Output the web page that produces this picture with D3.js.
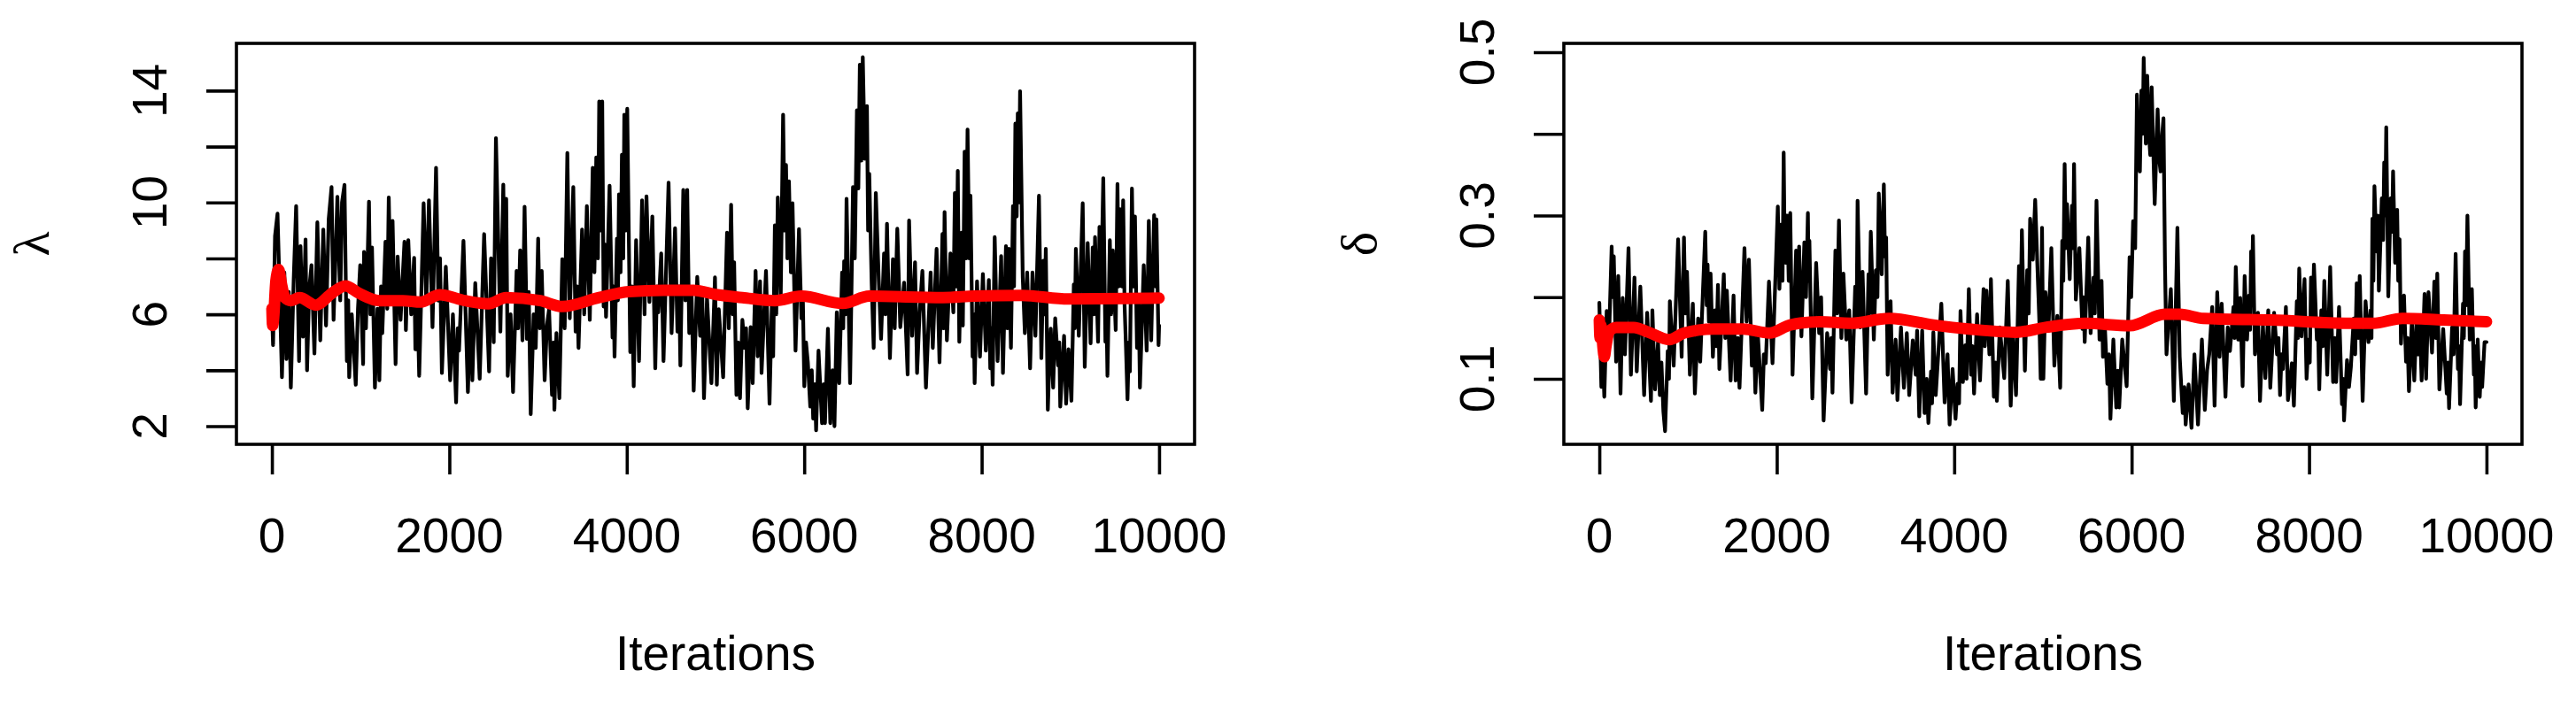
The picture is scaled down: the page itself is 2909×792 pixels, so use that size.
<!DOCTYPE html>
<html>
<head>
<meta charset="utf-8">
<script src="https://cdn.jsdelivr.net/npm/d3@7"></script>
<style>
  html, body { margin: 0; padding: 0; background: #ffffff; }
  svg { display: block; }
  text { font-family: "Liberation Sans", Arial, Helvetica, sans-serif; fill: #000; }
</style>
</head>
<body>
<script>
// ---------------- DATA ----------------
const iterTicks = [0, 2000, 4000, 6000, 8000, 10000];
const iterLabels = ["0", "2000", "4000", "6000", "8000", "10000"];
const lambdaTicks = [2, 4, 6, 8, 10, 12, 14];
const lambdaTickLabels = [2, 6, 10, 14];
const deltaTicks = [0.1, 0.2, 0.3, 0.4, 0.5];
const deltaTickLabels = [0.1, 0.3, 0.5];
const xLabel = "Iterations";
const lambdaLabel = "λ";
const deltaLabel = "δ";

// λ chain (iteration, value)
const lambdaTrace = [
[0,6.1],[13,4.9],[35,8.8],[63,9.6],[90,6.5],[113,3.75],[140,7.5],[163,4.4],[190,6.8],[213,3.38],[245,7.2],[273,9.87],[306,4.33],[322,8.44],[350,5.2],[379,8.68],[396,4.0],[420,6.9],[446,7.76],[479,4.6],[512,9.29],[545,5.07],[579,9.03],[610,5.6],[640,9.4],[672,10.55],[695,5.8],[738,10.2],[770,6.5],[790,10.0],[818,10.63],[845,4.33],[860,6.5],[871,3.75],[900,6.0],[945,3.48],[970,6.2],[995,7.76],[1028,4.22],[1038,8.23],[1060,5.5],[1094,10.03],[1110,6.0],[1128,8.39],[1161,3.38],[1190,6.2],[1211,3.64],[1230,7.0],[1244,5.33],[1280,8.6],[1300,6.2],[1317,10.18],[1340,6.5],[1360,9.34],[1394,4.22],[1417,8.07],[1450,5.8],[1494,8.6],[1510,5.44],[1537,8.65],[1570,6.0],[1603,8.02],[1617,4.75],[1640,6.5],[1660,3.8],[1690,7.5],[1710,9.97],[1740,6.4],[1770,10.08],[1810,5.54],[1850,11.24],[1876,6.49],[1895,8.0],[1916,3.9],[1960,7.7],[2009,3.64],[2040,6.0],[2076,2.85],[2095,5.5],[2109,4.7],[2159,8.63],[2209,3.22],[2240,6.5],[2259,3.64],[2292,7.12],[2342,3.7],[2392,8.87],[2448,3.96],
[2470,8.0],[2500,5.0],[2525,12.3],[2575,5.38],[2608,10.64],[2625,6.5],[2641,10.13],[2658,3.8],[2690,6.0],[2718,3.22],[2758,7.55],[2775,5.5],[2798,8.29],[2824,5.07],[2848,9.85],[2874,5.12],[2895,6.8],[2917,2.43],[2950,6.0],[2974,4.8],[3001,8.71],[3020,5.5],[3041,7.55],[3074,3.64],[3100,5.6],[3124,6.18],[3157,3.12],[3175,5.0],[3184,2.59],[3207,5.33],[3240,3.0],[3273,7.97],[3300,5.5],[3330,11.77],[3357,5.86],[3397,10.55],[3423,5.38],[3440,7.0],[3456,4.8],[3496,9.03],[3520,6.0],[3550,9.87],[3583,5.8],[3616,11.24],[3635,7.5],[3656,11.61],[3675,8.0],[3689,13.61],[3705,9.0],[3723,13.61],[3739,6.28],[3750,8.5],[3766,5.91],[3806,10.6],[3839,5.17],[3850,7.0],[3862,4.49],[3889,8.71],[3900,6.5],[3912,10.29],[3930,7.5],[3945,11.71],[3960,8.0],[3972,13.14],[3990,9.0],[4005,13.35],[4039,4.65],[4060,7.0],[4078,3.43],[4105,8.65],[4138,4.33],[4172,10.08],[4200,6.0],[4222,10.22],[4255,6.44],[4288,9.5],[4321,4.07],[4340,7.0],[4355,6.07],[4388,8.18],[4414,4.33],[4471,10.71],[4505,5.33],[4544,9.08],[4571,5.38],[4590,7.0],[4604,4.17],[4637,10.45],[4660,6.5],[4681,10.45],[4704,5.33],[4730,6.8],[4754,3.27],[4794,7.34],[4827,5.23],[4850,6.8],[4870,3.0],[4904,6.6],[4954,3.54],[4994,7.32],
[5015,3.48],[5037,6.18],[5086,3.75],[5130,8.92],[5150,5.5],[5176,9.92],[5195,6.0],[5210,7.86],[5236,3.12],[5255,5.0],[5276,3.0],[5303,5.8],[5329,4.8],[5345,5.5],[5363,2.64],[5396,5.54],[5419,3.54],[5452,7.55],[5475,4.5],[5502,7.18],[5519,3.9],[5569,7.55],[5609,2.8],[5635,6.39],[5650,4.5],[5669,9.18],[5685,6.0],[5702,10.18],[5735,6.6],[5762,13.14],[5780,9.0],[5795,11.34],[5810,8.0],[5828,10.76],[5850,7.5],[5868,9.97],[5902,4.7],[5941,9.05],[5968,5.86],[5985,6.5],[6001,3.43],[6020,5.0],[6041,4.28],[6068,2.7],[6085,4.0],[6101,2.27],[6120,3.5],[6134,1.85],[6161,4.7],[6201,2.11],[6220,3.5],[6234,2.11],[6267,5.49],[6294,2.11],[6320,4.0],[6341,2.0],[6367,6.07],[6394,3.54],[6427,7.5],[6440,5.5],[6450,7.9],[6465,6.0],[6477,10.13],[6517,3.54],[6550,10.55],[6570,8.0],[6594,13.3],[6610,10.5],[6627,14.93],[6645,11.5],[6660,15.2],[6683,11.56],[6707,13.45],[6720,9.0],[6733,11.03],[6760,7.13],[6783,4.8],[6807,10.34],[6840,7.23],[6866,5.12],[6900,8.18],[6915,6.0],[6933,9.24],[6966,4.43],[7000,7.97],[7020,5.5],[7049,9.06],[7083,5.54],[7126,7.13],[7166,3.85],[7182,9.36],[7216,5.23],[7249,7.86],[7272,3.9],[7300,6.0],[7332,7.55],[7372,3.38],[7425,7.5],[7449,4.8],[7492,8.34],[7525,4.28],[7558,8.87],
[7570,5.5],[7582,9.66],[7608,5.07],[7648,8.18],[7681,6.07],[7698,10.34],[7715,7.0],[7731,11.13],[7748,5.02],[7774,8.92],[7788,5.6],[7808,11.82],[7825,8.0],[7841,12.61],[7860,8.0],[7874,10.24],[7898,4.49],[7910,6.0],[7921,3.54],[7948,7.18],[7981,4.49],[8014,7.44],[8047,4.7],[8081,7.23],[8097,4.07],[8110,5.5],[8124,3.48],[8147,8.76],[8180,4.33],[8220,8.08],[8240,3.9],[8274,8.44],[8290,5.5],[8307,8.34],[8330,4.8],[8353,9.87],[8365,7.0],[8380,12.82],[8395,9.5],[8407,13.19],[8420,10.0],[8433,13.98],[8463,7.34],[8487,5.33],[8513,7.5],[8546,4.07],[8573,7.5],[8606,5.23],[8646,10.24],[8673,4.43],[8696,7.92],[8710,6.0],[8723,8.34],[8746,2.59],[8765,4.5],[8779,5.49],[8806,3.38],[8829,5.86],[8862,4.17],[8875,5.0],[8886,2.7],[8929,5.23],[8952,2.8],[8979,4.75],[9012,2.91],[9039,7.07],[9050,5.5],[9062,8.34],[9095,5.23],[9139,9.97],[9162,4.12],[9195,8.55],[9228,4.96],[9252,8.39],[9265,6.0],[9278,8.76],[9312,5.02],[9328,9.13],[9345,6.5],[9371,10.87],[9395,5.02],[9405,6.5],[9418,3.8],[9445,8.65],[9460,6.0],[9478,8.29],[9511,5.44],[9531,10.66],[9545,7.0],[9561,9.76],[9580,7.0],[9595,10.08],[9611,6.33],[9625,5.0],[9644,2.96],[9660,5.0],[9671,3.96],[9694,10.5],[9710,7.0],[9728,9.5],[9751,4.8],[9770,6.5],[9784,3.38],[9827,7.76],[9860,4.7],[9884,9.34],[9911,5.07],[9944,9.55],[9958,7.0],[9970,9.4],[9994,4.9],[10000,5.6]
];

// λ running mean
const lambdaMean = [
[0,6.2],[8,5.6],[20,5.9],[45,7.2],[75,7.6],[113,7.0],[146,6.6],[213,6.49],[312,6.6],[495,6.33],[678,6.76],[828,7.02],[978,6.76],[1211,6.49],[1477,6.49],[1677,6.44],[1893,6.7],[2176,6.49],[2440,6.38],[2641,6.6],[3024,6.49],[3273,6.28],[3689,6.6],[4022,6.81],[4421,6.86],[4754,6.86],[5020,6.7],[5303,6.6],[5669,6.49],[5968,6.65],[6434,6.39],[6733,6.65],[7565,6.6],[7914,6.65],[8447,6.68],[8979,6.55],[10000,6.58]
];

// δ chain (iteration, value)
const deltaTrace = [
[0,0.193],[23,0.090],[40,0.13],[56,0.078],[83,0.183],[106,0.137],[139,0.262],[150,0.20],[163,0.25],[189,0.121],[213,0.226],[239,0.082],[263,0.199],[289,0.130],[329,0.260],[356,0.105],[396,0.224],[422,0.109],[462,0.213],[505,0.080],[539,0.181],[582,0.073],[598,0.184],[628,0.087],[662,0.145],[682,0.080],[700,0.12],[722,0.060],[741,0.036],[771,0.134],[785,0.10],[795,0.195],[838,0.116],[888,0.271],[928,0.127],[954,0.273],[970,0.18],[988,0.231],[1021,0.105],[1054,0.192],[1077,0.082],[1114,0.174],[1137,0.121],[1194,0.280],[1210,0.19],[1220,0.240],[1235,0.17],[1254,0.229],[1280,0.127],[1304,0.184],[1320,0.14],[1337,0.215],[1353,0.112],[1403,0.228],[1420,0.15],[1437,0.208],[1480,0.098],[1513,0.202],[1536,0.098],[1560,0.15],[1580,0.089],[1636,0.260],[1660,0.17],[1686,0.246],[1719,0.116],[1740,0.16],[1759,0.083],[1786,0.156],[1836,0.062],[1855,0.13],[1876,0.119],[1912,0.219],[1952,0.119],[2012,0.311],[2030,0.21],[2052,0.289],[2065,0.22],[2078,0.377],[2090,0.25],[2102,0.242],[2110,0.30],[2118,0.300],[2135,0.22],[2152,0.303],[2178,0.105],[2218,0.257],[2235,0.17],[2252,0.262],[2278,0.152],[2311,0.267],[2330,0.20],[2351,0.303],[2360,0.22],[2368,0.269],[2401,0.076],[2444,0.242],[2478,0.156],
[2500,0.20],[2528,0.049],[2568,0.156],[2601,0.112],[2615,0.15],[2628,0.083],[2661,0.257],[2680,0.18],[2701,0.294],[2728,0.150],[2751,0.229],[2784,0.148],[2817,0.184],[2844,0.071],[2884,0.213],[2900,0.17],[2911,0.318],[2941,0.163],[2967,0.231],[3007,0.082],[3034,0.228],[3045,0.18],[3060,0.280],[3094,0.148],[3117,0.233],[3135,0.20],[3150,0.327],[3183,0.228],[3207,0.338],[3220,0.25],[3233,0.273],[3250,0.105],[3283,0.195],[3306,0.083],[3340,0.148],[3360,0.074],[3400,0.163],[3433,0.089],[3466,0.156],[3493,0.080],[3533,0.147],[3566,0.105],[3582,0.159],[3606,0.054],[3639,0.159],[3666,0.058],[3690,0.10],[3709,0.046],[3739,0.109],[3750,0.07],[3765,0.157],[3792,0.080],[3855,0.192],[3892,0.071],[3925,0.130],[3948,0.044],[3982,0.112],[4015,0.051],[4038,0.094],[4055,0.07],[4071,0.183],[4098,0.096],[4125,0.141],[4140,0.10],[4165,0.210],[4191,0.105],[4205,0.14],[4224,0.082],[4258,0.179],[4291,0.098],[4331,0.210],[4345,0.14],[4364,0.208],[4397,0.130],[4414,0.222],[4447,0.078],[4465,0.12],[4481,0.073],[4514,0.163],[4564,0.101],[4604,0.220],[4637,0.067],[4663,0.157],[4697,0.080],[4730,0.238],[4745,0.16],[4763,0.282],[4797,0.110],[4823,0.233],[4840,0.18],[4856,0.296],[4886,0.246],[4913,0.319],[4936,0.244],[4960,0.17],[4975,0.100],
[4990,0.285],[5005,0.10],[5029,0.206],[5062,0.159],[5095,0.260],[5129,0.116],[5162,0.177],[5195,0.089],[5218,0.269],[5230,0.22],[5245,0.363],[5258,0.26],[5272,0.314],[5302,0.222],[5328,0.312],[5340,0.26],[5351,0.363],[5371,0.197],[5411,0.260],[5445,0.161],[5458,0.20],[5471,0.145],[5511,0.273],[5538,0.156],[5571,0.224],[5585,0.18],[5604,0.318],[5638,0.148],[5661,0.220],[5677,0.127],[5700,0.16],[5727,0.094],[5745,0.13],[5761,0.051],[5794,0.148],[5827,0.065],[5845,0.11],[5860,0.065],[5894,0.148],[5944,0.091],[5977,0.249],[5995,0.20],[6017,0.293],[6040,0.26],[6060,0.448],[6075,0.37],[6093,0.354],[6110,0.453],[6125,0.40],[6136,0.493],[6160,0.388],[6176,0.471],[6195,0.40],[6210,0.374],[6226,0.457],[6260,0.314],[6293,0.430],[6310,0.37],[6326,0.354],[6345,0.40],[6359,0.419],[6376,0.239],[6393,0.130],[6442,0.210],[6476,0.073],[6516,0.285],[6542,0.127],[6560,0.09],[6576,0.058],[6595,0.09],[6609,0.044],[6642,0.093],[6675,0.040],[6708,0.130],[6748,0.044],[6792,0.148],[6825,0.062],[6850,0.11],[6875,0.130],[6908,0.188],[6935,0.067],[6965,0.206],[6991,0.127],[7015,0.192],[7058,0.078],[7084,0.163],[7108,0.134],[7148,0.188],[7160,0.15],[7174,0.237],[7201,0.148],[7224,0.199],[7251,0.091],[7274,0.226],[7301,0.148],[7324,0.202],[7335,0.16],[7347,0.256],[7357,0.20],[7367,0.275],[7390,0.130],[7424,0.181],[7447,0.073],[7480,0.166],[7507,0.101],[7540,0.184],
[7563,0.089],[7606,0.181],[7639,0.130],[7655,0.15],[7673,0.080],[7690,0.13],[7706,0.112],[7739,0.188],[7762,0.074],[7806,0.119],[7829,0.067],[7862,0.195],[7875,0.15],[7889,0.235],[7915,0.152],[7949,0.222],[7972,0.100],[7995,0.148],[8008,0.12],[8022,0.224],[8040,0.17],[8055,0.240],[8088,0.148],[8100,0.17],[8115,0.087],[8138,0.184],[8155,0.14],[8172,0.220],[8205,0.105],[8238,0.237],[8271,0.096],[8290,0.15],[8305,0.096],[8338,0.188],[8371,0.069],[8385,0.10],[8394,0.049],[8428,0.123],[8450,0.09],[8471,0.114],[8504,0.174],[8520,0.13],[8537,0.217],[8555,0.15],[8571,0.226],[8604,0.073],[8637,0.195],[8670,0.145],[8694,0.184],[8704,0.15],[8714,0.296],[8725,0.22],[8737,0.336],[8760,0.256],[8775,0.30],[8787,0.208],[8820,0.321],[8835,0.27],[8847,0.365],[8858,0.30],[8870,0.408],[8893,0.201],[8920,0.321],[8935,0.28],[8947,0.354],[8970,0.242],[8993,0.307],[9005,0.22],[9020,0.271],[9036,0.143],[9055,0.19],[9070,0.202],[9093,0.121],[9110,0.15],[9126,0.085],[9159,0.172],[9186,0.098],[9213,0.177],[9230,0.13],[9246,0.177],[9269,0.098],[9302,0.204],[9319,0.100],[9346,0.206],[9386,0.132],[9412,0.219],[9430,0.15],[9445,0.229],[9469,0.087],[9512,0.161],[9552,0.082],[9565,0.12],[9578,0.064],[9612,0.163],[9630,0.13],[9652,0.253],[9678,0.112],[9690,0.14],[9702,0.069],[9735,0.192],[9745,0.15],[9758,0.256],[9770,0.19],[9785,0.300],[9811,0.148],[9835,0.210],[9858,0.105],[9868,0.14],[9878,0.065],[9901,0.148],[9924,0.078],[9940,0.12],[9951,0.09],[9978,0.145],[10000,0.145]
];

// δ running mean
const deltaMean = [
[0,0.172],[8,0.15],[20,0.165],[40,0.14],[56,0.127],[75,0.14],[110,0.158],[189,0.163],[389,0.163],[555,0.157],[788,0.148],[954,0.156],[1287,0.161],[1620,0.161],[1919,0.156],[2152,0.166],[2484,0.170],[2834,0.168],[3267,0.174],[3765,0.166],[4165,0.161],[4697,0.157],[5029,0.163],[5478,0.168],[5977,0.165],[6376,0.179],[6542,0.179],[6808,0.174],[7573,0.172],[8454,0.168],[8720,0.168],[9053,0.174],[9519,0.172],[10000,0.170]
];

// ---------------- DRAWING ----------------
const W = 2909, H = 792;
const FONT = 55;
const svg = d3.select("body").append("svg")
  .attr("width", W).attr("height", H)
  .attr("viewBox", `0 0 ${W} ${H}`);
svg.append("rect").attr("width", W).attr("height", H).attr("fill", "#fff");

const panels = [
  { trace: lambdaTrace, mean: lambdaMean, ticks: lambdaTicks, labels: lambdaTickLabels,
    fmt: d => String(d), ylab: lambdaLabel,
    box: { left: 267, right: 1349, top: 49, bottom: 502 }, yDomain: [1.352, 15.69] },
  { trace: deltaTrace, mean: deltaMean, ticks: deltaTicks, labels: deltaTickLabels,
    fmt: d => d3.format(".1f")(d), ylab: deltaLabel,
    box: { left: 1766, right: 2848, top: 49, bottom: 502 }, yDomain: [0.0198, 0.5108] }
];

panels.forEach(p => {
  const b = p.box;
  const x = d3.scaleLinear().domain([-400, 10400]).range([b.left, b.right]);
  const y = d3.scaleLinear().domain(p.yDomain).range([b.bottom, b.top]);
  const g = svg.append("g");

  // trace
  const line = d3.line().x(d => x(d[0])).y(d => y(d[1]));
  g.append("path").datum(p.trace)
    .attr("d", line).attr("fill", "none").attr("stroke", "#000")
    .attr("stroke-width", 4.2).attr("stroke-linejoin", "round").attr("stroke-linecap", "round");

  // running mean
  const meanLine = d3.line().x(d => x(d[0])).y(d => y(d[1])).curve(d3.curveMonotoneX);
  g.append("path").datum(p.mean)
    .attr("d", meanLine).attr("fill", "none").attr("stroke", "#ff0000")
    .attr("stroke-width", 13).attr("stroke-linejoin", "round").attr("stroke-linecap", "round");

  // box
  g.append("rect").attr("x", b.left).attr("y", b.top)
    .attr("width", b.right - b.left).attr("height", b.bottom - b.top)
    .attr("fill", "none").attr("stroke", "#000").attr("stroke-width", 3.6);

  // x axis
  const xa = g.append("g").attr("transform", `translate(0,${b.bottom})`)
    .call(d3.axisBottom(x).tickValues(iterTicks).tickSize(34).tickSizeOuter(0).tickFormat(""));
  xa.select(".domain").attr("stroke-width", 0);
  xa.selectAll(".tick line").attr("stroke", "#000").attr("stroke-width", 3.6);
  g.selectAll(null).data(iterTicks).enter().append("text")
    .attr("x", d => x(d)).attr("y", 624)
    .attr("text-anchor", "middle").attr("font-size", FONT)
    .text((d, i) => iterLabels[i]);

  // y axis
  const ya = g.append("g").attr("transform", `translate(${b.left},0)`)
    .call(d3.axisLeft(y).tickValues(p.ticks).tickSize(34).tickSizeOuter(0).tickFormat(""));
  ya.select(".domain").attr("stroke-width", 0);
  ya.selectAll(".tick line").attr("stroke", "#000").attr("stroke-width", 3.6);
  const lx = b.left - 79;
  g.selectAll(null).data(p.labels).enter().append("text")
    .attr("transform", d => `translate(${lx},${y(d)}) rotate(-90)`)
    .attr("text-anchor", "middle").attr("font-size", FONT)
    .text(p.fmt);

  // axis titles
  g.append("text").attr("x", (b.left + b.right) / 2).attr("y", 757)
    .attr("text-anchor", "middle").attr("font-size", FONT).text(xLabel);
  g.append("text")
    .attr("transform", `translate(${b.left - 212},${(b.top + b.bottom) / 2}) rotate(-90)`)
    .attr("text-anchor", "middle").attr("font-size", 58)
    .style("font-family", "'Liberation Serif', 'DejaVu Serif', serif")
    .text(p.ylab);
});
</script>
</body>
</html>
